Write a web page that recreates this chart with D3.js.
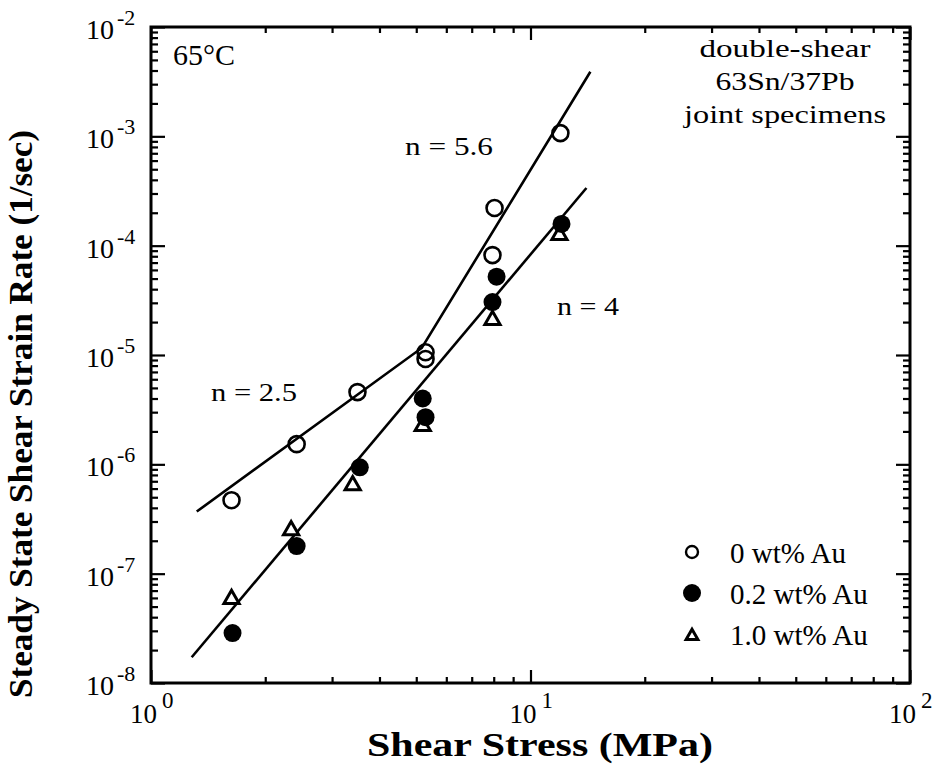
<!DOCTYPE html>
<html>
<head>
<meta charset="utf-8">
<script src="https://cdn.jsdelivr.net/npm/d3@7"></script>
<style>
body { margin: 0; background: #fff; }
text { font-family: "Liberation Serif", "Times New Roman", serif; fill: #000; }
</style>
</head>
<body>
<script>
// shear stress (MPa) and steady state strain rate (1/sec)
var stress0 = [1.63, 2.42, 3.5, 5.29, 5.29, 7.94, 8.04, 11.99];
var rate0 = [4.7e-7, 1.53e-6, 4.58e-6, 1.06e-5, 9.2e-6, 8.2e-5, 2.21e-4, 1.07e-3];

var stress02 = [1.64, 2.42, 3.55, 5.2, 5.29, 8.14, 7.94, 12.07];
var rate02 = [2.86e-8, 1.79e-7, 9.4e-7, 4.0e-6, 2.7e-6, 5.2e-5, 3.05e-5, 1.58e-4];

var stress10 = [1.63, 2.34, 3.4, 5.2, 7.94, 11.92];
var rate10 = [6.1e-8, 2.6e-7, 6.7e-7, 2.33e-6, 2.18e-5, 1.3e-4];

// fitted power-law lines
var fitLowStress = [1.32, 5.17, 14.38];
var fitLowRate = [3.7e-7, 1.16e-5, 3.9e-3];
var fitHighStress = [1.28, 14.04];
var fitHighRate = [1.72e-8, 3.37e-4];

var xMajor = [1, 10, 100];
var xExp = ["0", "1", "2"];
var yMajor = [1e-8, 1e-7, 1e-6, 1e-5, 1e-4, 1e-3, 1e-2];
var yExp = ["-8", "-7", "-6", "-5", "-4", "-3", "-2"];
var legendLabels = ["0 wt% Au", "0.2 wt% Au", "1.0 wt% Au"];

var margin = { top: 27, right: 29, bottom: 85, left: 151 },
    width = 939 - margin.left - margin.right,
    height = 768 - margin.top - margin.bottom;

var svg = d3.select("body").append("svg")
    .attr("width", 939)
    .attr("height", 768);

var g = svg.append("g")
    .attr("transform", "translate(" + margin.left + "," + margin.top + ")");

var x = d3.scaleLog().domain([1, 100]).range([0, width]);
var y = d3.scaleLog().domain([1e-8, 1e-2]).range([height, 0]);

var xMinor = x.ticks().filter(function(d) { return xMajor.indexOf(d) < 0; });
var yMinor = y.ticks().filter(function(d) {
    return !yMajor.some(function(m) { return Math.abs(d / m - 1) < 1e-6; });
});

function styleAxis(sel) {
    sel.select(".domain").remove();
    sel.selectAll("line").attr("stroke", "#000").attr("stroke-width", 2.2);
    sel.selectAll("text").remove();
}

// ticks point inward on all four sides
g.append("g").call(d3.axisLeft(y).tickValues(yMinor).tickSize(-7)).call(styleAxis);
g.append("g").call(d3.axisLeft(y).tickValues(yMajor).tickSize(-14)).call(styleAxis);
g.append("g").attr("transform", "translate(" + width + ",0)")
    .call(d3.axisRight(y).tickValues(yMinor).tickSize(-7)).call(styleAxis);
g.append("g").attr("transform", "translate(" + width + ",0)")
    .call(d3.axisRight(y).tickValues(yMajor).tickSize(-14)).call(styleAxis);
g.append("g").attr("transform", "translate(0," + height + ")")
    .call(d3.axisBottom(x).tickValues(xMinor).tickSize(-6)).call(styleAxis);
g.append("g").attr("transform", "translate(0," + height + ")")
    .call(d3.axisBottom(x).tickValues(xMajor).tickSize(-13)).call(styleAxis);
g.append("g").call(d3.axisTop(x).tickValues(xMinor).tickSize(-6)).call(styleAxis);
g.append("g").call(d3.axisTop(x).tickValues(xMajor).tickSize(-13)).call(styleAxis);

g.append("rect")
    .attr("width", width)
    .attr("height", height)
    .attr("fill", "none")
    .attr("stroke", "#000")
    .attr("stroke-width", 3);

// tick labels: 10 with a raised exponent
var yLab = g.append("g").selectAll("g").data(yMajor).enter().append("g")
    .attr("transform", function(d) { return "translate(0," + y(d) + ")"; });
yLab.append("text")
    .attr("x", -37).attr("y", 12)
    .attr("text-anchor", "end")
    .style("font-size", "28px")
    .text("10");
yLab.append("text")
    .attr("x", -34).attr("y", -2)
    .style("font-size", "22px")
    .text(function(d, i) { return yExp[i]; });

var xLab = g.append("g").selectAll("g").data(xMajor).enter().append("g")
    .attr("transform", function(d) { return "translate(" + x(d) + "," + height + ")"; });
xLab.append("text")
    .attr("x", 6).attr("y", 40)
    .attr("text-anchor", "end")
    .style("font-size", "27px")
    .text("10");
xLab.append("text")
    .attr("x", 11).attr("y", 25)
    .style("font-size", "23px")
    .text(function(d, i) { return xExp[i]; });

// axis titles
svg.append("text")
    .attr("x", 540).attr("y", 756)
    .attr("text-anchor", "middle")
    .attr("textLength", 346)
    .attr("lengthAdjust", "spacingAndGlyphs")
    .style("font-size", "33px")
    .style("font-weight", "bold")
    .text("Shear Stress (MPa)");

svg.append("text")
    .attr("transform", "translate(32,414) rotate(-90)")
    .attr("text-anchor", "middle")
    .attr("textLength", 568)
    .attr("lengthAdjust", "spacingAndGlyphs")
    .style("font-size", "33px")
    .style("font-weight", "bold")
    .text("Steady State Shear Strain Rate (1/sec)");

// fitted lines
var line = d3.line()
    .x(function(d) { return x(d[0]); })
    .y(function(d) { return y(d[1]); });

g.append("path")
    .datum(d3.zip(fitLowStress, fitLowRate))
    .attr("d", line)
    .attr("fill", "none").attr("stroke", "#000").attr("stroke-width", 2.6);
g.append("path")
    .datum(d3.zip(fitHighStress, fitHighRate))
    .attr("d", line)
    .attr("fill", "none").attr("stroke", "#000").attr("stroke-width", 2.6);

// markers
var tri = d3.symbol().type(d3.symbolTriangle).size(100);

g.selectAll(".tri").data(d3.zip(stress10, rate10)).enter().append("path")
    .attr("class", "tri")
    .attr("transform", function(d) { return "translate(" + x(d[0]) + "," + (y(d[1]) + 2) + ")"; })
    .attr("d", tri)
    .attr("fill", "#fff").attr("stroke", "#000").attr("stroke-width", 3);

g.selectAll(".dot02").data(d3.zip(stress02, rate02)).enter().append("circle")
    .attr("class", "dot02")
    .attr("cx", function(d) { return x(d[0]); })
    .attr("cy", function(d) { return y(d[1]); })
    .attr("r", 9)
    .attr("fill", "#000");

g.selectAll(".dot0").data(d3.zip(stress0, rate0)).enter().append("circle")
    .attr("class", "dot0")
    .attr("cx", function(d) { return x(d[0]); })
    .attr("cy", function(d) { return y(d[1]); })
    .attr("r", 8)
    .attr("fill", "none").attr("stroke", "#000").attr("stroke-width", 2.6);

// annotations
g.append("text").attr("x", 22).attr("y", 38)
    .style("font-size", "30px").text("65°C");

var note = ["double-shear", "63Sn/37Pb", "joint specimens"];
var noteLen = [171, 139, 202];
g.append("g").selectAll("text").data(note).enter().append("text")
    .attr("x", 634)
    .attr("y", function(d, i) { return 30 + i * 33; })
    .attr("text-anchor", "middle")
    .attr("textLength", function(d, i) { return noteLen[i]; })
    .attr("lengthAdjust", "spacingAndGlyphs")
    .style("font-size", "25px")
    .text(function(d) { return d; });

var slopes = ["n = 5.6", "n = 2.5", "n = 4"];
var slopeAt = [[254, 128], [60, 374], [406, 288]];
var slopeLen = [88, 86, 62];
g.append("g").selectAll("text").data(slopes).enter().append("text")
    .attr("x", function(d, i) { return slopeAt[i][0]; })
    .attr("y", function(d, i) { return slopeAt[i][1]; })
    .attr("textLength", function(d, i) { return slopeLen[i]; })
    .attr("lengthAdjust", "spacingAndGlyphs")
    .style("font-size", "26px")
    .text(function(d) { return d; });

// legend
var leg = g.append("g").attr("transform", "translate(541,525)")
    .selectAll("g").data(legendLabels).enter().append("g")
    .attr("transform", function(d, i) { return "translate(0," + i * 41 + ")"; });

leg.each(function(d, i) {
    var s = d3.select(this);
    if (i === 0) {
        s.append("circle").attr("r", 6).attr("fill", "none")
            .attr("stroke", "#000").attr("stroke-width", 2.4);
    } else if (i === 1) {
        s.append("circle").attr("r", 9).attr("fill", "#000");
    } else {
        s.append("path").attr("transform", "translate(0,2)")
            .attr("d", d3.symbol().type(d3.symbolTriangle).size(60))
            .attr("fill", "#fff").attr("stroke", "#000").attr("stroke-width", 3);
    }
});
leg.append("text")
    .attr("x", 38).attr("y", 11)
    .style("font-size", "29px")
    .text(function(d) { return d; });
</script>
</body>
</html>
